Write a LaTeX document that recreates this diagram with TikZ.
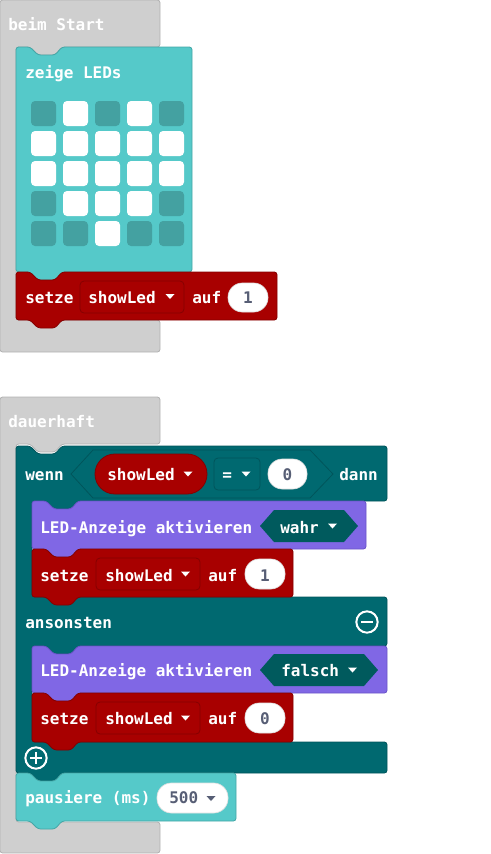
\documentclass[tikz,border=0pt]{standalone}
\usepackage{fontspec}
\usepackage{xcolor}
\newfontfamily\blockfont{DejaVu Sans Mono}
\usetikzlibrary{positioning}

\definecolor{blkgray}{HTML}{CFCFCF}
\definecolor{blkgrayd}{HTML}{B2B2B2}
\definecolor{blkcyan}{HTML}{55C9C9}
\definecolor{blkcyand}{HTML}{44A6A6}
\definecolor{ledoff}{HTML}{44A1A1}
\definecolor{blkred}{HTML}{A80000}
\definecolor{blkredd}{HTML}{850000}
\definecolor{blkteal}{HTML}{006970}
\definecolor{blktealdd}{HTML}{00555B}
\definecolor{blkpurple}{HTML}{8067E5}
\definecolor{blkpurpled}{HTML}{6A54C8}
\definecolor{hexdark}{HTML}{005A5D}
\definecolor{numgray}{HTML}{575E75}

\newcommand{\bfont}{\blockfont\bfseries\fontsize{12}{14}\selectfont}
% block with notch on top and tab below
\newcommand{\stmtblock}[5]{\filldraw[#1] (#2,#3) -- ++(14,0) -- ++(8,8) -- ++(17,0) -- ++(7,-8) -- (#4,#3) -- (#4,#5) -- (#2+46,#5) -- ++(-7,8) -- ++(-17,0) -- ++(-8,-8) -- (#2,#5) -- cycle;}
% dropdown arrow
\newcommand{\ddtri}[3]{\fill[#1] (#2-4.5,#3-2.5) -- (#2+4.5,#3-2.5) -- (#2,#3+2.5) -- cycle;}

\tikzset{
    blk/.style={rounded corners=2pt, line width=0.6pt},
    grayblk/.style={blk, fill=blkgray, draw=blkgrayd},
    cyanblk/.style={blk, fill=blkcyan, draw=blkcyand},
    redblk/.style={blk, fill=blkred, draw=blkredd},
    tealblk/.style={blk, fill=blkteal, draw=blktealdd},
    purpleblk/.style={blk, fill=blkpurple, draw=blkpurpled},
    lbl/.style={font=\bfont, text=white, inner sep=0pt, anchor=base west},
    numlbl/.style={font=\bfont, text=numgray, inner sep=0pt, anchor=base},
    ddbox/.style={rounded corners=3pt, line width=0.6pt},
    numoval/.style={fill=white, draw=black!12, line width=0.5pt, rounded corners=10.8pt}
}

\begin{document}
\begin{tikzpicture}[x=0.75pt, y=-0.75pt]
    \useasboundingbox (0,0) rectangle (490,854);

    % beim Start
    \filldraw[grayblk] (0,0) -- (160,0) -- (160,47) -- (62,47) -- ++(-7,8) -- ++(-17,0) -- ++(-8,-8) -- (16,47) -- (16,320) -- (160,320) -- (160,352) -- (0,352) -- cycle;
    \node[lbl] (start) at (8,30) {beim Start};

    \stmtblock{cyanblk}{16}{47}{192}{272}
    \node[lbl] (leds) at (25,78) {zeige LEDs};
    \foreach \row [count=\r from 0] in {{0,1,0,1,0},{1,1,1,1,1},{1,1,1,1,1},{0,1,1,1,0},{0,0,1,0,0}}
        \foreach \on [count=\c from 0] in \row {
            \ifnum\on=1 \def\ledcol{white}\else\def\ledcol{ledoff}\fi
            \fill[\ledcol, rounded corners=3pt] (31+32*\c,101+30*\r) rectangle ++(25,25);
        }

    \stmtblock{redblk}{16}{272}{277}{320}
    \node[lbl] (setzeA) at (25,303) {setze};
    \filldraw[ddbox, fill=blkred, draw=blkredd] (80,281) rectangle (184,313);
    \node[lbl] (varA) at (88,303) {showLed};
    \ddtri{white}{170}{296.5}
    \node[lbl] (aufA) at (192,303) {auf};
    \filldraw[numoval] (228,283) rectangle (268,312);
    \node[numlbl] (numA) at (248,303) {1};

    % dauerhaft
    \filldraw[grayblk] (0,397) -- (160,397) -- (160,444) -- (62,444) -- ++(-7,8) -- ++(-17,0) -- ++(-8,-8) -- (16,444) -- (16,822) -- (160,822) -- (160,853) -- (0,853) -- cycle;
    \node[lbl] (forever) at (8,427) {dauerhaft};

    % wenn ... dann ... ansonsten
    \filldraw[tealblk] (16,446) -- ++(14,0) -- ++(8,8) -- ++(17,0) -- ++(7,-8) -- (387,446) -- (387,501) -- (78,501) -- ++(-7,8) -- ++(-17,0) -- ++(-8,-8) -- (32,501) -- (32,597) -- (387,597) -- (387,646) -- (78,646) -- ++(-7,8) -- ++(-17,0) -- ++(-8,-8) -- (32,646) -- (32,742) -- (387,742) -- (387,773) -- (62,773) -- ++(-7,8) -- ++(-17,0) -- ++(-8,-8) -- (16,773) -- cycle;
    \node[lbl] (wenn) at (25,480) {wenn};
    \draw[blktealdd, line width=0.6pt, fill=blkteal] (71,474) -- (93,450) -- (310,450) -- (333,474) -- (310,498) -- (93,498) -- cycle;
    \filldraw[fill=blkred, draw=blkredd, line width=0.6pt, rounded corners=14.9pt] (95,454) rectangle (207,494);
    \node[lbl] (varCond) at (107,480) {showLed};
    \ddtri{white}{188}{474}
    \filldraw[ddbox, fill=blkteal, draw=blktealdd] (214,458) rectangle (260,490);
    \node[lbl] (eq) at (222,480) {=};
    \ddtri{white}{246}{474}
    \filldraw[numoval] (268,459) rectangle (307,489);
    \node[numlbl] (numCond) at (287.5,480) {0};
    \node[lbl] (dann) at (339,480) {dann};

    \node[lbl] (sonst) at (25,628) {ansonsten};
    \draw[white, line width=1.5pt] (367,622) circle (8pt);
    \draw[white, line width=2.2pt] (361,622) -- (373,622);

    \draw[white, line width=1.5pt] (36,758) circle (8pt);
    \draw[white, line width=2.2pt] (30,758) -- (42,758);
    \draw[white, line width=2.2pt] (36,752) -- (36,764);

    % dann-Zweig
    \stmtblock{purpleblk}{32}{501}{366}{549}
    \node[lbl] (ledOn) at (40,533) {LED-Anzeige aktivieren};
    \fill[hexdark] (260,526) -- (274,510) -- (344,510) -- (358,526) -- (344,542) -- (274,542) -- cycle;
    \node[lbl] (wahr) at (280,533) {wahr};
    \ddtri{white}{332.5}{526}

    \stmtblock{redblk}{32}{549}{293}{597}
    \node[lbl] (setzeB) at (40,581) {setze};
    \filldraw[ddbox, fill=blkred, draw=blkredd] (96,558) rectangle (200,590);
    \node[lbl] (varB) at (105,581) {showLed};
    \ddtri{white}{185.5}{574}
    \node[lbl] (aufB) at (208,581) {auf};
    \filldraw[numoval] (245,559) rectangle (285,589);
    \node[numlbl] (numB) at (265,581) {1};

    % ansonsten-Zweig
    \stmtblock{purpleblk}{32}{646}{387}{693}
    \node[lbl] (ledOff) at (40,676) {LED-Anzeige aktivieren};
    \fill[hexdark] (260,670) -- (274,654) -- (364,654) -- (378,670) -- (364,686) -- (274,686) -- cycle;
    \node[lbl] (falsch) at (281,676) {falsch};
    \ddtri{white}{352.5}{670}

    \stmtblock{redblk}{32}{693}{293}{742}
    \node[lbl] (setzeC) at (40,724) {setze};
    \filldraw[ddbox, fill=blkred, draw=blkredd] (96,702) rectangle (200,734);
    \node[lbl] (varC) at (105,724) {showLed};
    \ddtri{white}{185.5}{718}
    \node[lbl] (aufC) at (208,724) {auf};
    \filldraw[numoval] (245,703) rectangle (285,733);
    \node[numlbl] (numC) at (265,724) {0};

    % pausiere
    \stmtblock{cyanblk}{16}{773}{236}{821}
    \node[lbl] (pause) at (25,803.5) {pausiere (ms)};
    \filldraw[numoval] (157,783) rectangle (228,813);
    \node[numlbl, anchor=base west] (ms) at (169,803.5) {500};
    \ddtri{numgray}{211}{798.5}
\end{tikzpicture}
\end{document}
